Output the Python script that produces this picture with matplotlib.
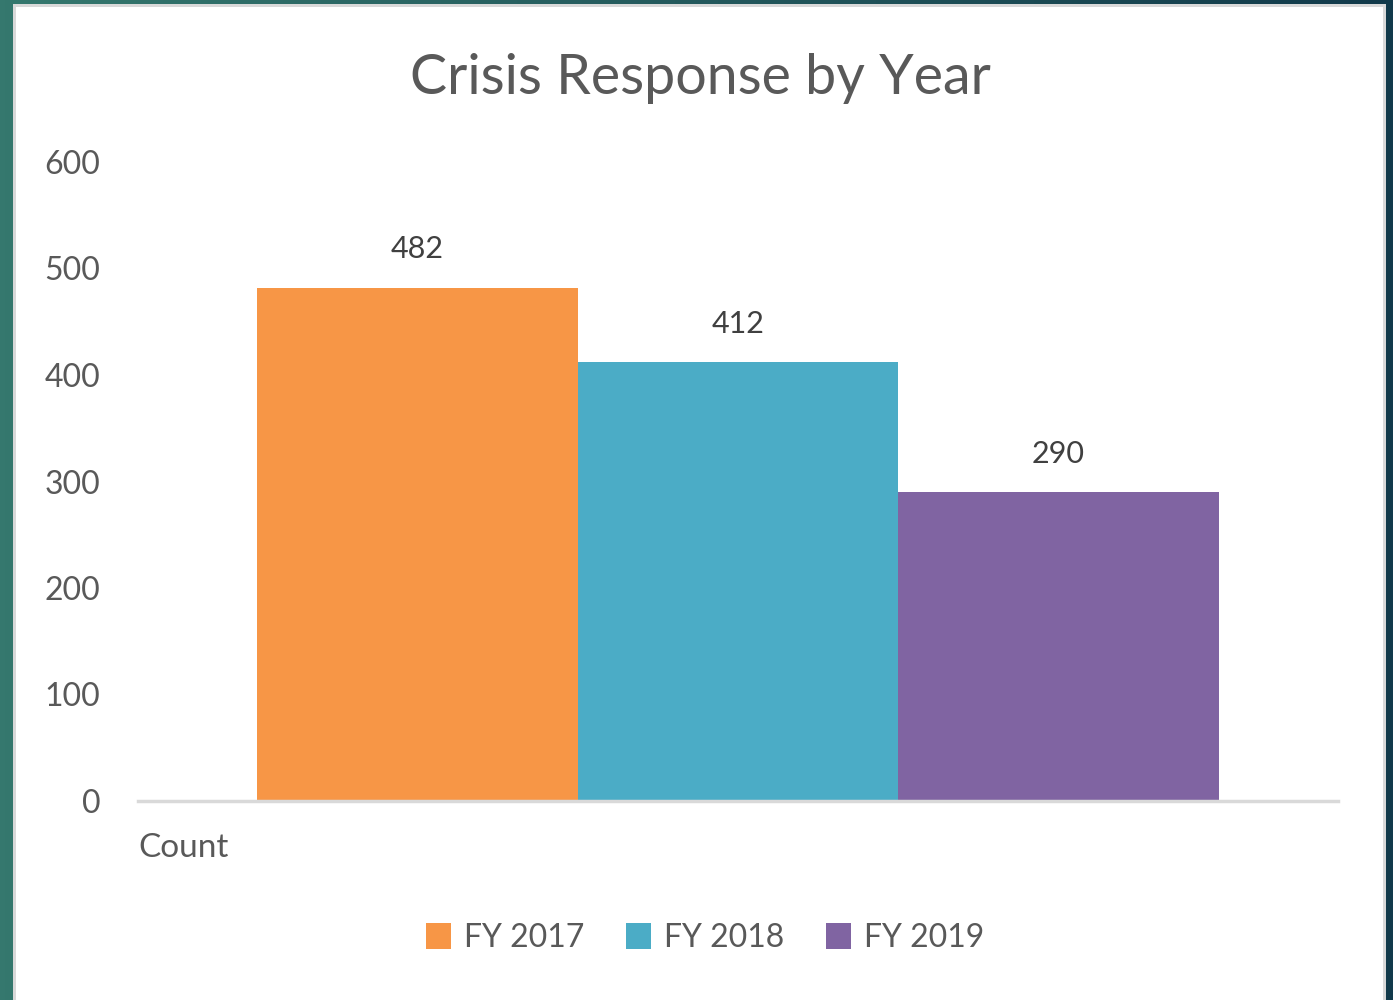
import numpy as np
import matplotlib
matplotlib.use("Agg")
from matplotlib import pyplot as plt
from matplotlib.patches import Rectangle

# donnees
series = ["FY 2017", "FY 2018", "FY 2019"]
values = [482, 412, 290]
colors = ["#f79646", "#4bacc6", "#8064a2"]
category = "Count"
yticks = [0, 100, 200, 300, 400, 500, 600]

plt.rcParams['font.family'] = ['Lato', 'DejaVu Sans']
W, H = 1393, 1000
fig = plt.figure(figsize=(W / 100, H / 100), dpi=100)

# fond degrade (teal -> bleu nuit)
bg = fig.add_axes([0, 0, 1, 1])
bg.axis("off")
c1 = np.array([0x35, 0x78, 0x6e]) / 255
c2 = np.array([0x12, 0x3a, 0x4b]) / 255
t = np.linspace(0, 1, 256)[None, :, None]
grad = c1 * (1 - t) + c2 * t
bg.imshow(grad, aspect="auto", extent=[0, 1, 0, 1])
bg.set_xlim(0, 1)
bg.set_ylim(0, 1)
bg.add_patch(Rectangle((13 / W, 0), (1386 - 13) / W, 1 - 4 / H,
                       facecolor="#d9d9d9", edgecolor="none"))
bg.add_patch(Rectangle((16 / W, 0), (1383 - 16) / W, 1 - 7 / H,
                       facecolor="white", edgecolor="none"))

ax = fig.add_axes([138 / W, 1 - 801 / H, (1338 - 138) / W, (801 - 162) / H])
ax.patch.set_alpha(0)
bw = 0.267
for i, (s, v, c) in enumerate(zip(series, values, colors)):
    x = (i - 1) * bw
    ax.bar(x, v, width=bw, color=c, label=s, zorder=2)
    ax.text(x, v + 23, str(v), ha="center", va="bottom", fontsize=22, color="#404040")

ax.set_xlim(-0.5, 0.5)
ax.set_ylim(0, 600)
ax.set_yticks(yticks)
ax.tick_params(axis="y", length=0, pad=27, labelsize=23, labelcolor="#595959")
ax.set_xticks([])
for sp in ["top", "right", "left"]:
    ax.spines[sp].set_visible(False)
ax.spines["bottom"].set_color("#d9d9d9")
ax.spines["bottom"].set_linewidth(2.5)
ax.spines["bottom"].set_zorder(3)

ax.text(0, -0.05, category, transform=ax.transAxes, ha="left", va="top",
        fontsize=24, color="#595959")

fig.text(700 / W, 1 - 78 / H, "Crisis Response by Year", ha="center", va="center",
         fontsize=40, color="#595959")

leg = fig.legend(loc="center", bbox_to_anchor=(705 / W, 1 - 938 / H), ncol=3,
                 frameon=False, fontsize=23, handlelength=0.8, handleheight=0.9,
                 handletextpad=0.4, columnspacing=1.3, labelcolor="#595959")

fig.savefig("out.png", dpi=100)
